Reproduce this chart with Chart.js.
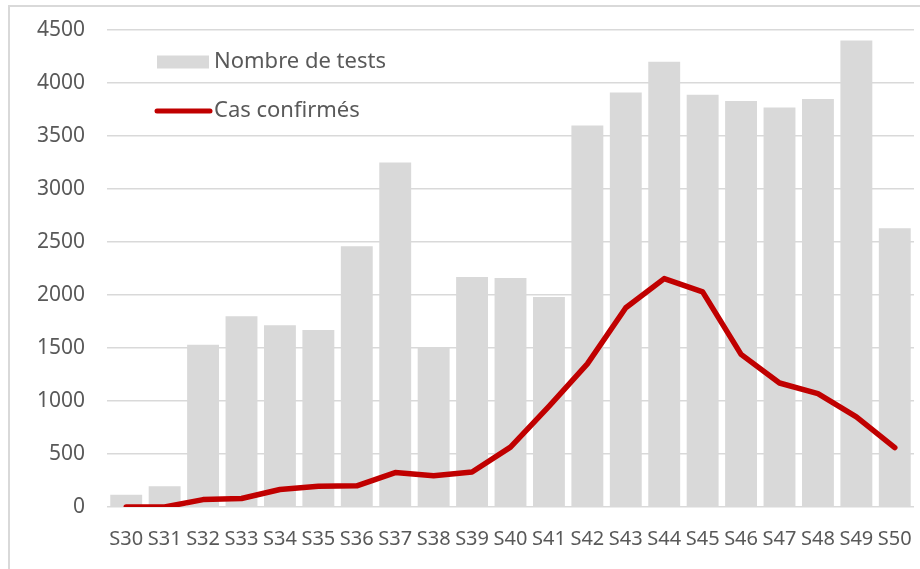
<!DOCTYPE html>
<html>
<head>
<meta charset="utf-8">
<script src="https://cdn.jsdelivr.net/npm/chart.js@4/dist/chart.umd.min.js"></script>
<style>
  html, body { margin: 0; padding: 0; background: #fff; overflow: hidden; }
  #frame { position: absolute; left: 8px; top: 5px; width: 930px; height: 600px; border: 2px solid #d9d9d9; box-sizing: border-box; }
  #wrap { position: absolute; left: 0; top: 0; width: 920px; height: 569px; }
</style>
</head>
<body>
<div id="frame"></div>
<div id="wrap"><canvas id="chart"></canvas></div>
<script>
( function () {
    'use strict';

    var weeks = [ 'S30', 'S31', 'S32', 'S33', 'S34', 'S35', 'S36', 'S37', 'S38', 'S39', 'S40',
                  'S41', 'S42', 'S43', 'S44', 'S45', 'S46', 'S47', 'S48', 'S49', 'S50' ];
    var tests = [ 115, 195, 1530, 1800, 1715, 1670, 2460, 3250, 1500, 2170, 2160,
                  1980, 3600, 3910, 4200, 3890, 3830, 3770, 3850, 4400, 2630 ];
    var confirmed = [ 0, 0, 70, 80, 165, 195, 200, 325, 295, 330, 565,
                      950, 1350, 1880, 2155, 2030, 1440, 1170, 1070, 850, 560 ];
    var yTicks = [ 0, 500, 1000, 1500, 2000, 2500, 3000, 3500, 4000, 4500 ];

    var textColor = '#595959';
    var fontFamily = '"Noto Sans", "Open Sans", sans-serif';

    // legend drawn inside the plot area, top-left, like the original
    var insideLegend = {
        id: 'insideLegend',
        afterDraw: function ( chart ) {
            var ctx = chart.ctx;
            var area = chart.chartArea;
            var x = area.left + 50;
            var rows = [ area.top + 32, area.top + 81 ];
            var sets = [ chart.data.datasets[ 1 ], chart.data.datasets[ 0 ] ];
            ctx.save();
            ctx.font = '22px ' + fontFamily;
            ctx.textBaseline = 'middle';
            sets.forEach( function ( ds, i ) {
                var y = rows[ i ];
                if ( ds.type === 'bar' ) {
                    ctx.fillStyle = ds.backgroundColor;
                    ctx.fillRect( x, y - 6.5, 52, 13 );
                } else {
                    ctx.strokeStyle = ds.borderColor;
                    ctx.lineWidth = 5;
                    ctx.lineCap = 'round';
                    ctx.beginPath();
                    ctx.moveTo( x, y );
                    ctx.lineTo( x + 53, y );
                    ctx.stroke();
                }
                ctx.fillStyle = textColor;
                ctx.fillText( ds.label, x + 57, y );
            } );
            ctx.restore();
        },
    };

    new Chart( document.getElementById( 'chart' ), {
        data: {
            labels: weeks,
            datasets: [ {
                type: 'line',
                label: 'Cas confirmés',
                data: confirmed,
                borderColor: '#c00000',
                borderWidth: 5.5,
                borderCapStyle: 'round',
                borderJoinStyle: 'round',
                pointRadius: 0,
                tension: 0,
                order: 0,
            }, {
                type: 'bar',
                label: 'Nombre de tests',
                data: tests,
                backgroundColor: '#d9d9d9',
                categoryPercentage: 1,
                barPercentage: 0.83,
                order: 1,
            } ],
        },
        options: {
            responsive: true,
            maintainAspectRatio: false,
            animation: false,
            layout: { padding: { top: 30, right: 6, left: 0, bottom: 0 } },
            plugins: {
                legend: { display: false },
                tooltip: { enabled: false },
            },
            scales: {
                x: {
                    grid: { display: false },
                    border: { display: false },
                    ticks: {
                        color: textColor,
                        font: { family: fontFamily, size: 20 },
                        maxRotation: 0,
                        autoSkip: false,
                        padding: 12,
                    },
                    afterFit: function ( s ) {
                        s.height = 62;
                        s.paddingLeft = 0;
                        s.paddingRight = 0;
                    },
                },
                y: {
                    min: 0,
                    max: 4500,
                    afterBuildTicks: function ( s ) {
                        s.ticks = yTicks.map( function ( v ) { return { value: v }; } );
                    },
                    grid: { color: '#d9d9d9', lineWidth: 1.5, drawTicks: false, tickLength: 0 },
                    border: { display: false },
                    ticks: {
                        color: textColor,
                        font: { family: fontFamily, size: 21 },
                        padding: 22,
                        callback: function ( v ) { return String( v ); },
                    },
                    afterFit: function ( s ) {
                        s.width = 107;
                        s.paddingTop = 0;
                        s.paddingBottom = 0;
                    },
                },
            },
        },
        plugins: [ insideLegend ],
    } );
} )();
</script>
</body>
</html>
